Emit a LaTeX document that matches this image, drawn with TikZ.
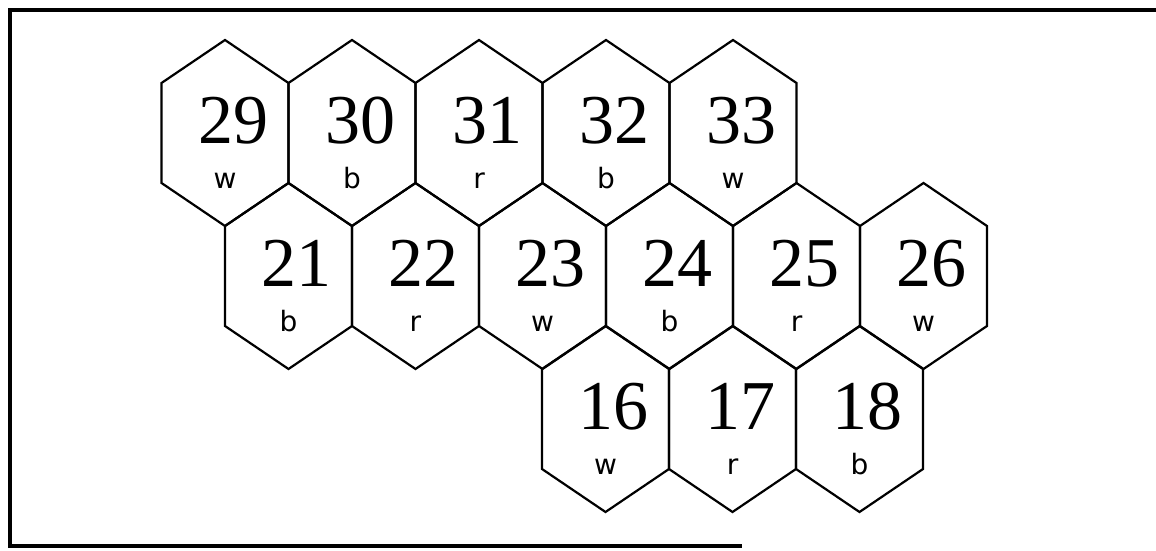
\documentclass[tikz,border=0pt]{standalone}
\usepackage{fontspec}
\setmainfont{Liberation Serif}
\newfontfamily\labfont{DejaVu Sans}
\tikzset{
  frame/.style={line width=2pt, line cap=rect},
  hexline/.style={line width=1.1pt, line join=miter},
  num/.style={anchor=base, inner sep=0pt, font=\fontsize{35}{40}\selectfont},
  col/.style={anchor=base, inner sep=0pt, font=\labfont\fontsize{14}{16}\selectfont},
}
% one cell: centre x, centre y, number, colour letter
\newcommand{\hexcell}[4]{%
  \draw[hexline] (#1,#2) ++(0,-93) -- ++(63.5,43) -- ++(0,100) -- ++(-63.5,43)
    -- ++(-63.5,-43) -- ++(0,-100) -- cycle;
  \node[num] (n#3) at (#1+8,#2+10) {#3};
  \node[col] (c#3) at (#1,#2+55) {#4};
}

\begin{document}
\begin{tikzpicture}[x=0.5pt, y=-0.5pt]
\useasboundingbox (0,0) rectangle (1156,551);
\draw[frame] (1156,10) -- (10,10) -- (10,546) -- (740,546);
\foreach \n/\c [count=\i from 0] in {29/w,30/b,31/r,32/b,33/w}
  {\hexcell{225+127*\i}{133}{\n}{\c}}
\foreach \n/\c [count=\i from 0] in {21/b,22/r,23/w,24/b,25/r,26/w}
  {\hexcell{288.5+127*\i}{276}{\n}{\c}}
\foreach \n/\c [count=\i from 0] in {16/w,17/r,18/b}
  {\hexcell{605.5+127*\i}{419}{\n}{\c}}
\end{tikzpicture}
\end{document}
